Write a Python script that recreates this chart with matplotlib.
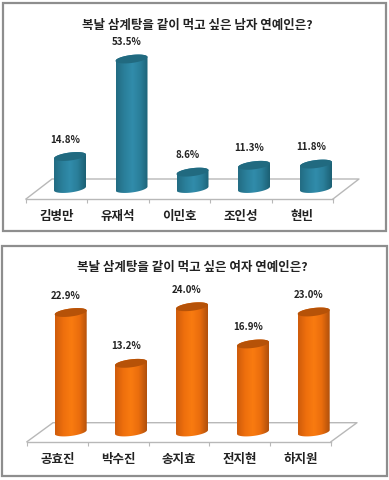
import numpy as np
import matplotlib
matplotlib.use("Agg")
import matplotlib.pyplot as plt
from matplotlib.colors import LinearSegmentedColormap
from matplotlib.patches import Polygon, Rectangle

plt.rcParams['font.family'] = ['Noto Sans CJK KR', 'DejaVu Sans']

W, H = 389, 480

# data
men_names = ['김병만', '유재석', '이민호', '조인성', '현빈']
men_values = [14.8, 53.5, 8.6, 11.3, 11.8]
women_names = ['공효진', '박수진', '송지효', '전지현', '하지원']
women_values = [22.9, 13.2, 24.0, 16.9, 23.0]
men_title = '복날 삼계탕을 같이 먹고 싶은 남자 연예인은?'
women_title = '복날 삼계탕을 같이 먹고 싶은 여자 연예인은?'

teal_cols = ['#226c83', '#2a7f9a', '#318cab', '#2a7e99', '#1c6074']
orange_cols = ['#cf5c0b', '#ee6f0d', '#f97b10', '#ea6d0d', '#b0500c']

fig = plt.figure(figsize=(W / 100, H / 100), dpi=100)


def panel(names, values, title, frame, floor, bar_x, zero_y, k, base, cols, top_col, title_xy):
    # floor = (front left, front right, front y, back y), all in pixels
    x0, x1, fy, by = floor
    top_px = frame[1] + 4
    ax = fig.add_axes([x0 / W, 1 - fy / H, (x1 - x0) / W, (fy - top_px) / H])
    ux = (x1 - x0) / 5
    ax.patch.set_alpha(0)
    for s in ['top', 'left', 'right']:
        ax.spines[s].set_visible(False)
    ax.spines['bottom'].set_color('#b8b8b8')
    ax.spines['bottom'].set_linewidth(1.0)
    ax.set_yticks([])
    ax.set_xticks(range(5))
    ax.set_xticklabels(names, fontsize=9, fontweight='bold', color='#222222')
    ax.tick_params(axis='x', length=0, pad=8)
    ax.set_xticks(np.arange(-0.5, 5), minor=True)
    ax.tick_params(axis='x', which='minor', length=3, width=0.8, color='#b8b8b8')

    # floor outline
    dx = 26 / ux
    dy = (fy - by) / k
    y_f = (zero_y - fy) / k
    ax.plot([-0.5, -0.5 + dx, 4.5 + dx, 4.5], [y_f, y_f + dy, y_f + dy, y_f],
            color='#b8b8b8', lw=1.0, clip_on=False, zorder=1)

    cmap = LinearSegmentedColormap.from_list('cyl', cols)
    grad = np.linspace(0, 1, 64).reshape(1, -1)
    a = 16 / ux
    t = np.linspace(0, 2 * np.pi, 80)
    for i, v in enumerate(values):
        xc = (bar_x[i] - x0) / ux - 0.5
        ex = 16 * np.cos(t)
        ey = 4.0 * np.sin(t) + 0.12 * ex
        low = t[40:]
        bx = 16 * np.cos(low)
        bo = 4.0 * np.sin(low) + 0.12 * bx
        up = t[:41]
        tx = 16 * np.cos(up)
        uo = 4.0 * np.sin(up) + 0.12 * tx
        px = np.r_[xc + bx / ux, xc + tx / ux]
        py = np.r_[base + bo / k, v + uo / k]
        body = Polygon(np.c_[px, py], closed=True, transform=ax.transData, fc='none', ec='none')
        ax.add_patch(body)
        im = ax.imshow(grad, cmap=cmap, aspect='auto', zorder=3,
                       extent=[xc - a, xc + a, base - 7 / k, v + 7 / k])
        im.set_clip_path(body)
        ax.add_patch(Polygon(np.c_[xc + ex / ux, v + ey / k], closed=True, fc=top_col, ec='none', zorder=4))
        ax.annotate(f'{v:.1f}%', (xc, v), xytext=(-5, 17), textcoords='offset pixels',
                    ha='center', va='center', fontsize=7, fontweight='bold',
                    color='#222222', annotation_clip=False)

    # imshow resets limits
    ax.set_xlim(-0.5, 4.5)
    ax.set_ylim((zero_y - fy) / k, (zero_y - top_px) / k)
    ax.set_aspect('auto')

    fig.text(title_xy[0] / W, 1 - title_xy[1] / H, title, ha='center', va='center',
             fontsize=9, fontweight='bold', color='#222222')
    fig.add_artist(Rectangle((frame[0] / W, 1 - frame[3] / H), (frame[2] - frame[0]) / W,
                             (frame[3] - frame[1]) / H, transform=fig.transFigure,
                             fc='none', ec='#8e8e8e', lw=1.6))


panel(men_names, men_values, men_title, (3, 3, 386, 231), (26, 333, 199, 179),
      [70, 131.5, 192.5, 254, 316], 193.8, 2.52, 2.1, teal_cols, '#216a80', (197, 26))
panel(women_names, women_values, women_title, (2, 246, 387, 476), (27, 331, 441.7, 422.7),
      [70.7, 131, 192, 253, 313.7], 432.5, 5.24, 0.1, orange_cols, '#b65208', (192, 267))

fig.savefig('out.png', dpi=100)
